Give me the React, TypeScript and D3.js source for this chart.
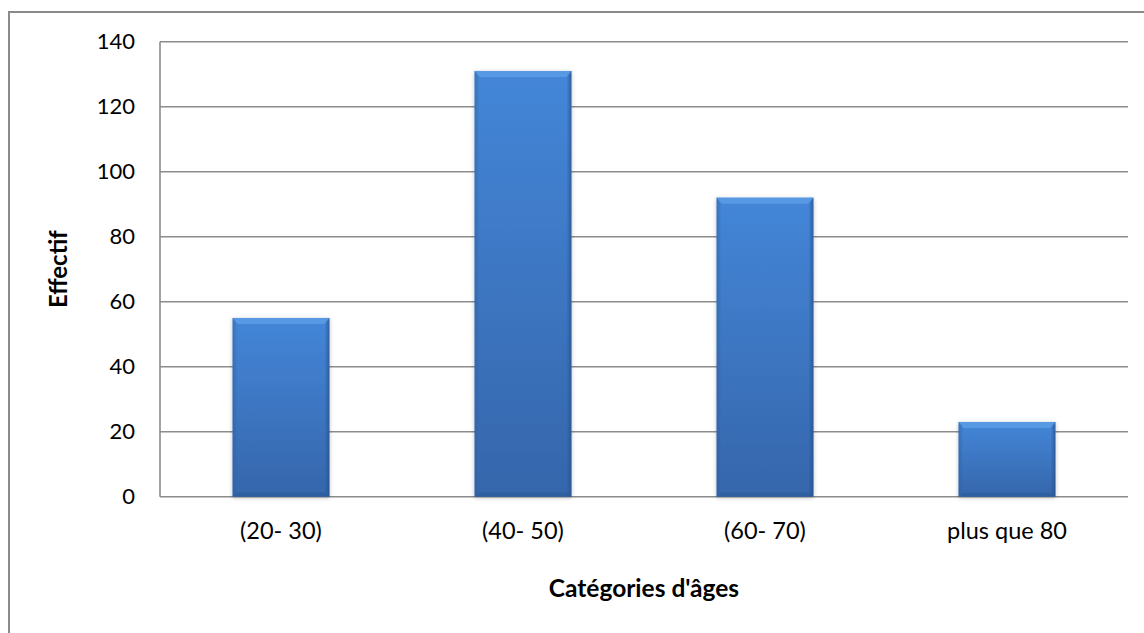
import React from "react";
import * as d3 from "d3";

const categories: string[] = ["(20- 30)", "(40- 50)", "(60- 70)", "plus que 80"];
const values: number[] = [55, 131, 92, 23];
const yTicks: number[] = [0, 20, 40, 60, 80, 100, 120, 140];
const yTitle = "Effectif";
const xTitle = "Catégories d'âges";

const W = 1144;
const H = 633;
const plot = { left: 160, right: 1128, top: 41.7, bottom: 496.7 };
const FONT = "Lato, 'Open Sans', sans-serif";

export default function App() {
  const x = d3
    .scaleBand<string>()
    .domain(categories)
    .range([plot.left, plot.right])
    .paddingInner(0.6)
    .paddingOuter(0.3);
  const y = d3.scaleLinear().domain([0, 140]).range([plot.bottom, plot.top]);
  const bw = x.bandwidth();
  const bev = 5;

  return (
    <svg
      width={W}
      height={H}
      style={{ position: "absolute", left: 0, top: 0, background: "#fff" }}
    >
      <defs>
        <linearGradient id="barGrad" x1="0" y1="0" x2="0" y2="1">
          <stop offset="0" stopColor="#4486d8" />
          <stop offset="1" stopColor="#3566ab" />
        </linearGradient>
        <linearGradient id="sideL" x1="0" y1="0" x2="1" y2="0">
          <stop offset="0" stopColor="#2f5f9f" stopOpacity="0.55" />
          <stop offset="1" stopColor="#2f5f9f" stopOpacity="0" />
        </linearGradient>
        <linearGradient id="sideR" x1="1" y1="0" x2="0" y2="0">
          <stop offset="0" stopColor="#244f8a" stopOpacity="0.7" />
          <stop offset="1" stopColor="#244f8a" stopOpacity="0" />
        </linearGradient>
        <filter id="shadow" x="-20%" y="-20%" width="140%" height="140%">
          <feGaussianBlur in="SourceAlpha" stdDeviation="2" />
          <feOffset dx="0" dy="1" result="b" />
          <feComponentTransfer>
            <feFuncA type="linear" slope="0.25" />
          </feComponentTransfer>
          <feMerge>
            <feMergeNode />
            <feMergeNode in="SourceGraphic" />
          </feMerge>
        </filter>
      </defs>

      {/* outer chart border */}
      <rect x={9} y={12} width={W + 20} height={H + 20} fill="none" stroke="#8a8a8a" strokeWidth={2} />

      {/* gridlines */}
      {yTicks.map((t) => (
        <line
          key={"g" + t}
          x1={plot.left}
          x2={plot.right}
          y1={y(t)}
          y2={y(t)}
          stroke="#8c8c8c"
          strokeWidth={1.6}
        />
      ))}
      {/* y axis line */}
      <line x1={plot.left} x2={plot.left} y1={plot.top} y2={plot.bottom} stroke="#8c8c8c" strokeWidth={1.6} />

      {/* y tick labels */}
      {yTicks.map((t) => (
        <text
          key={"t" + t}
          x={135}
          y={y(t)}
          dy="0.35em"
          textAnchor="end"
          fontFamily={FONT}
          fontSize={22}
          fill="#000"
        >
          {t}
        </text>
      ))}

      {/* bars */}
      {categories.map((c, i) => {
        const x0 = x(c)!;
        const x1 = x0 + bw;
        const yt = y(values[i]);
        const yb = y(0);
        return (
          <g key={c} filter="url(#shadow)">
            <rect x={x0} y={yt} width={bw} height={yb - yt} fill="url(#barGrad)" />
            <rect x={x0} y={yt} width={bev} height={yb - yt} fill="url(#sideL)" />
            <rect x={x1 - bev} y={yt} width={bev} height={yb - yt} fill="url(#sideR)" />
            <polygon
              points={`${x0},${yt} ${x1},${yt} ${x1 - bev},${yt + bev + 1} ${x0 + bev},${yt + bev + 1}`}
              fill="#5b9be6"
              opacity={0.9}
            />
            <polygon
              points={`${x0},${yb} ${x1},${yb} ${x1 - bev},${yb - 4} ${x0 + bev},${yb - 4}`}
              fill="#2c5a98"
              opacity={0.6}
            />
          </g>
        );
      })}

      {/* x category labels */}
      {categories.map((c) => (
        <text
          key={"x" + c}
          x={x(c)! + bw / 2}
          y={539}
          textAnchor="middle"
          fontFamily={FONT}
          fontSize={23.5}
          fill="#000"
        >
          {c}
        </text>
      ))}

      {/* axis titles */}
      <text
        x={(plot.left + plot.right) / 2}
        y={597}
        textAnchor="middle"
        fontFamily={FONT}
        fontSize={24.5}
        fontWeight="bold"
        fill="#000"
      >
        {xTitle}
      </text>
      <text
        transform={`translate(67, ${(plot.top + plot.bottom) / 2}) rotate(-90)`}
        textAnchor="middle"
        fontFamily={FONT}
        fontSize={24}
        fontWeight="bold"
        fill="#000"
      >
        {yTitle}
      </text>
    </svg>
  );
}
